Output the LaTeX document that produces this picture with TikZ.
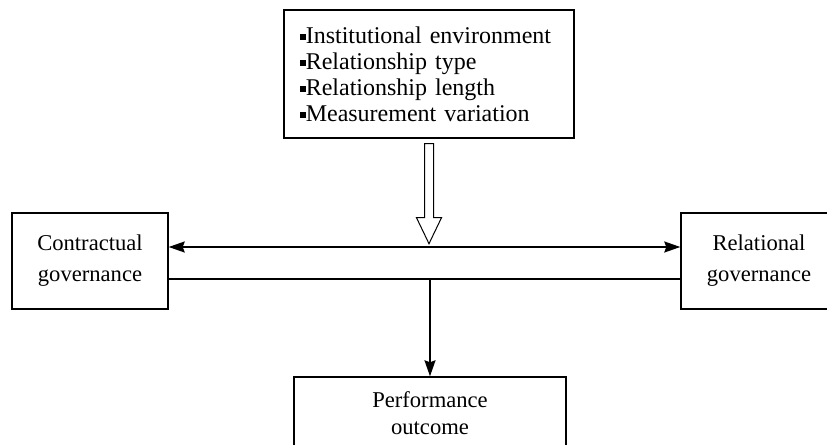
\documentclass[tikz,border=0pt]{standalone}
\usepackage{fontspec}
\setmainfont{Liberation Serif}
\usetikzlibrary{arrows.meta,positioning,calc}
\newcommand{\sqbul}{\raisebox{0.15em}{\rule{0.24em}{0.24em}}}

\begin{document}
\begin{tikzpicture}[
  x=0.5pt,y=-0.5pt,
  font=\fontsize{11.3}{15.5}\selectfont,
  box/.style={draw,line width=0.7pt,align=center,inner sep=0pt,
              minimum width=78pt,minimum height=48pt},
  listbox/.style={draw,line width=0.7pt,align=left,inner xsep=8pt,
                  text width=129pt,minimum height=64pt,
                  font=\fontsize{12}{13}\selectfont},
  flow/.style={-{Stealth[length=8pt,width=5.5pt,inset=1pt]},line width=0.9pt},
  biflow/.style={flow,{Stealth[length=8pt,width=5.5pt,inset=1pt]}-{Stealth[length=8pt,width=5.5pt,inset=1pt]}},
  plain/.style={line width=0.9pt},
  hollow/.style={line width=0.5pt,fill=white},
]
\clip (0,0) rectangle (827,445);

% moderators on top
\node[listbox] (env) at (429,74)
  {\sqbul Institutional environment\\\sqbul Relationship type\\
   \sqbul Relationship length\\\sqbul Measurement variation};

% the two governance forms
\node[box] (ctr) at (90,261) {Contractual\\governance};
\node[box] (rel) at (759,261) {Relational\\governance};

% outcome (cut by the page edge)
\node[box,minimum width=136pt,minimum height=36pt,
      font=\fontsize{11.3}{13.5}\selectfont] (perf) at (430,413)
  {Performance\\outcome};

% links
\draw[biflow] ($(ctr.east)+(0,-14)$) -- ($(rel.west)+(0,-14)$);
\draw[plain] ($(ctr.east)+(0,18)$) coordinate (lo) -- ($(rel.west)+(0,18)$);
\draw[flow] (perf.north |- lo) -- (perf.north);

% hollow arrow from the moderators
\draw[hollow] ($(env.south)+(-4.5,5)$) -- ++(0,74) -- ++(-8,0) -- ++(12.5,26)
  -- ++(12.5,-26) -- ++(-8,0) -- ++(0,-74) -- cycle;
\end{tikzpicture}
\end{document}
